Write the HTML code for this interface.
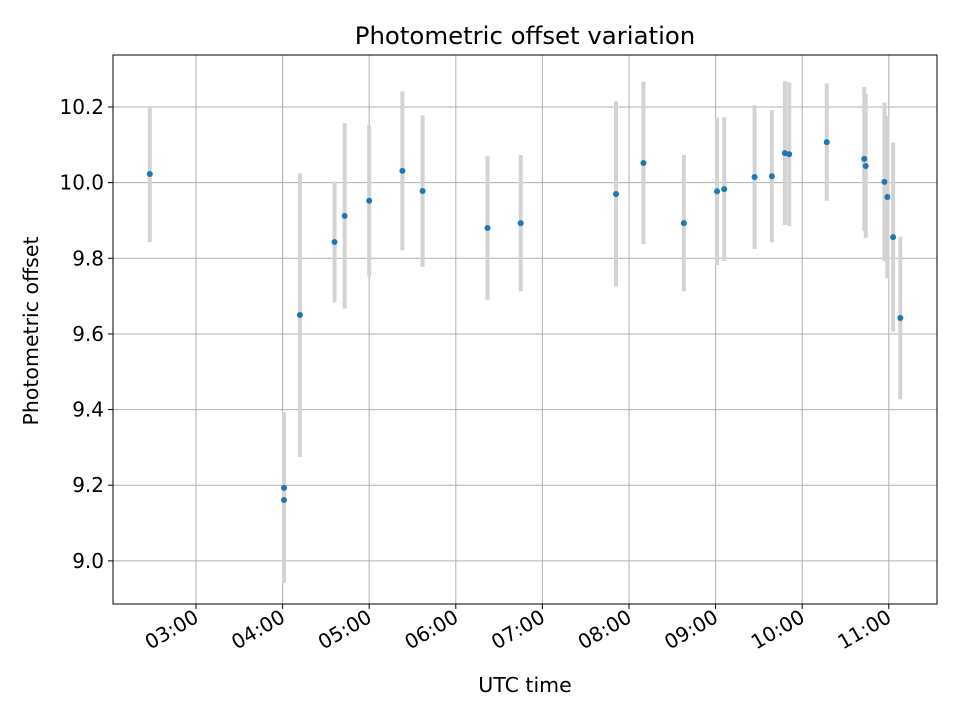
<!DOCTYPE html>
<html><head><meta charset="utf-8"><style>
body{margin:0;background:#fff;font-family:"DejaVu Sans","Liberation Sans",sans-serif;}
</style></head><body>
<svg id="chart" width="960" height="720" xmlns="http://www.w3.org/2000/svg" font-family="'DejaVu Sans','Liberation Sans',sans-serif">
<rect width="960" height="720" fill="#fff"/>
<g id="grid"></g><g id="bars"></g><g id="pts"></g><g id="axes"></g>
<text x="525" y="44" text-anchor="middle" font-size="24.4">Photometric offset variation</text>
<text x="525" y="692" text-anchor="middle" font-size="20.5">UTC time</text>
<text transform="translate(38,331) rotate(-90)" text-anchor="middle" font-size="20.5">Photometric offset</text>
</svg>
<script>
const times = [148,241,241,252,276,283,300,323,337,382,405,471,490,518,541,546,567,579,588,591,617,643,644,657,659,663,668];
const values = [10.023,9.193,9.161,9.65,9.843,9.912,9.952,10.031,9.978,9.88,9.893,9.97,10.052,9.893,9.977,9.983,10.015,10.017,10.078,10.075,10.107,10.063,10.044,10.002,9.962,9.856,9.642];
const errors = [0.18,0.2,0.22,0.375,0.16,0.245,0.2,0.21,0.2,0.19,0.18,0.245,0.215,0.18,0.195,0.19,0.19,0.175,0.19,0.19,0.155,0.19,0.19,0.21,0.215,0.25,0.215];
const xTickMinutes = [180,240,300,360,420,480,540,600,660];
const xTickLabels = ["03:00","04:00","05:00","06:00","07:00","08:00","09:00","10:00","11:00"];
const yTicks = [9.0,9.2,9.4,9.6,9.8,10.0,10.2];
const yTickLabels = ["9.0","9.2","9.4","9.6","9.8","10.0","10.2"];

const L=113,R=937,T=55,B=604;
const xMin=122.5,xMax=693.4,yMin=8.886,yMax=10.3375;
const X=t=>L+(t-xMin)/(xMax-xMin)*(R-L);
const Y=v=>B-(v-yMin)/(yMax-yMin)*(B-T);
const NS="http://www.w3.org/2000/svg";
function mk(tag,attrs,parent){const e=document.createElementNS(NS,tag);for(const k in attrs)e.setAttribute(k,attrs[k]);document.getElementById(parent).appendChild(e);return e;}

xTickMinutes.forEach((t,i)=>{
  const x=X(t);
  const g=mk('line',{x1:x,x2:x,y1:T,y2:B,stroke:'#b0b0b0','stroke-width':1},'grid');
  
  
  mk('line',{x1:x,x2:x,y1:B,y2:B+5,stroke:'#000','stroke-width':1},'axes');
  const tx=mk('text',{x:x+4,y:B+17,'text-anchor':'end','font-size':20,transform:`rotate(-30 ${x+4} ${B+17})`},'axes');
  tx.textContent=xTickLabels[i];
  
  
});
yTicks.forEach((v,i)=>{
  const y=Y(v);
  const g=mk('line',{x1:L,x2:R,y1:y,y2:y,stroke:'#b0b0b0','stroke-width':1},'grid');
  
  
  mk('line',{x1:L-5,x2:L,y1:y,y2:y,stroke:'#000','stroke-width':1},'axes');
  const tx=mk('text',{x:L-9,y:y+7,'text-anchor':'end','font-size':20},'axes');
  tx.textContent=yTickLabels[i];
  
  
});
const frame=mk('rect',{x:L,y:T,width:R-L,height:B-T,fill:'none',stroke:'#000','stroke-width':1},'axes');



times.forEach((t,i)=>{
  const x=X(t);
  const b=mk('line',{x1:x,x2:x,y1:Y(values[i]+errors[i]),y2:Y(values[i]-errors[i]),stroke:'#d3d3d3','stroke-width':4},'bars');
  
  
  const p=mk('circle',{cx:x,cy:Y(values[i]),r:3,fill:'#1f77b4'},'pts');
  
  
});
</script>
</body></html>
